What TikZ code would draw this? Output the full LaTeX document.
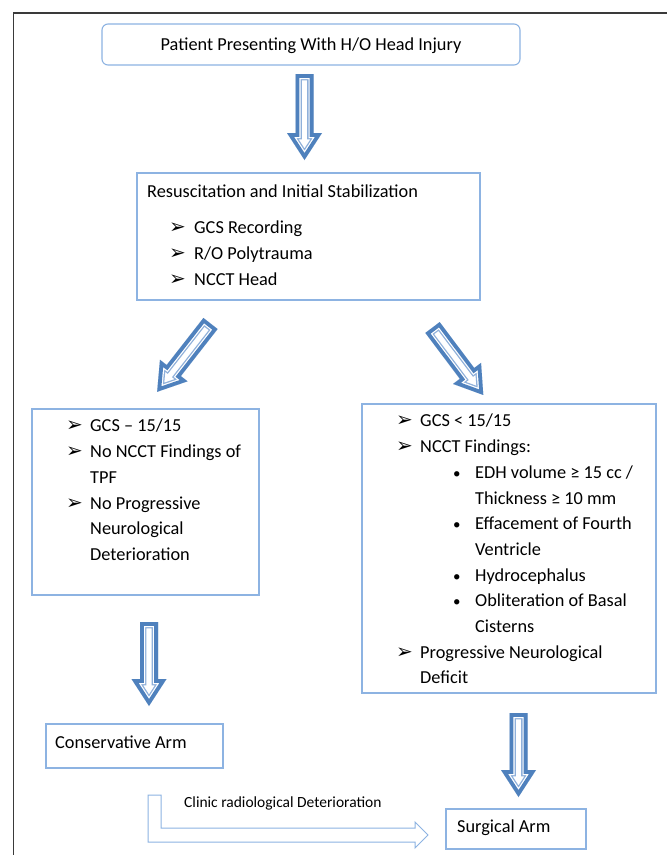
\documentclass[tikz,border=0pt]{standalone}
\usepackage{fontspec}
\setmainfont{Carlito}
\newfontfamily\symfont{DejaVu Sans}
\usetikzlibrary{calc}
\definecolor{arrblue}{HTML}{4F81BD}
\definecolor{arrlight}{HTML}{8FB0DA}
\definecolor{boxblue}{HTML}{8DB3E2}
\definecolor{framegray}{HTML}{3A3A3A}
\newcommand\blockarrow[2]{%
  \path let \p1=(#1), \p2=(#2) in \pgfextra{%
    \pgfmathsetmacro\myang{atan2(\y2-\y1,\x2-\x1)}%
    \pgfmathsetmacro\mylen{veclen(\x2-\x1,\y2-\y1)}%
    \xdef\BAang{\myang}\xdef\BAlen{\mylen}};
  \begin{scope}[shift={(#1)}, rotate=\BAang]
    \def\arrpath{(0,-9) -- (\BAlen-27,-9) -- (\BAlen-27,-17.5) -- (\BAlen,0) -- (\BAlen-27,17.5) -- (\BAlen-27,9) -- (0,9) -- cycle}
    \clip \arrpath;
    \fill[white] \arrpath;
    \draw[arrlight, line width=12.6pt] \arrpath;
    \draw[white, line width=10pt] \arrpath;
    \draw[arrblue, line width=7.6pt] \arrpath;
  \end{scope}}
\tikzset{
  box/.style={draw=boxblue, line width=1.1pt, inner sep=0pt},
  txt/.style={anchor=base west, inner sep=0pt, font=\fontsize{18.3pt}{22pt}\selectfont},
  arrbul/.style={anchor=base west, inner sep=0pt, font=\symfont\fontsize{20pt}{20pt}\selectfont},
  dotbul/.style={anchor=base west, inner sep=0pt, font=\fontsize{15pt}{18pt}\selectfont},
  small/.style={anchor=base west, inner sep=0pt, font=\fontsize{15.5pt}{18pt}\selectfont},
  thinarrow/.style={draw=boxblue, line width=1pt, fill=white, line join=miter}
}
\begin{document}
\begin{tikzpicture}[x=1pt,y=-1pt]
\useasboundingbox (0,0) rectangle (667,855);
\fill[white] (0,0) rectangle (667,855);
% outer frame
\draw[framegray, line width=1.4pt] (13.5,856) -- (13.5,13) -- (668,13);

% boxes
\node[box, rounded corners=6pt, minimum width=418pt, minimum height=41pt] (top) at (311,44.5) {};
\node[box, minimum width=343pt, minimum height=127pt] (res) at (308.5,236.5) {};
\node[box, minimum width=227pt, minimum height=186pt] (lft) at (145.5,502) {};
\node[box, minimum width=294pt, minimum height=289pt] (rgt) at (509,548.5) {};
\node[box, minimum width=177pt, minimum height=44pt] (cons) at (134.5,746) {};
\node[box, minimum width=140pt, minimum height=40pt] (surg) at (516,829) {};

% top text
\node[txt, anchor=base] (ttop) at (311,50) {Patient Presenting With H/O Head Injury};

% resuscitation box
\node[txt] (r0) at (147,197) {Resuscitation and Initial Stabilization};
\node[arrbul] (rb1) at (169,233) {➢};
\node[txt] (r1) at (194,233) {GCS Recording};
\node[arrbul] (rb2) at (169,259) {➢};
\node[txt] (r2) at (194,259) {R/O Polytrauma};
\node[arrbul] (rb3) at (169,285) {➢};
\node[txt] (r3) at (194,285) {NCCT Head};

% left box
\node[arrbul] (lb1) at (66,431) {➢};
\node[txt] (l1) at (90,431) {GCS – 15/15};
\node[arrbul] (lb2) at (66,457) {➢};
\node[txt] (l2) at (90,457) {No NCCT Findings of};
\node[txt] (l3) at (90,483) {TPF};
\node[arrbul] (lb4) at (66,509) {➢};
\node[txt] (l4) at (90,509) {No Progressive};
\node[txt] (l5) at (90,534.5) {Neurological};
\node[txt] (l6) at (90,560) {Deterioration};

% right box
\node[arrbul] (gb1) at (396,426) {➢};
\node[txt] (g1) at (420,426) {GCS < 15/15};
\node[arrbul] (gb2) at (396,452) {➢};
\node[txt] (g2) at (420,452) {NCCT Findings:};
\node[dotbul] (gd1) at (453,478) {•};
\node[txt] (g3) at (475,478) {EDH volume ≥ 15 cc /};
\node[txt] (g4) at (475,504) {Thickness ≥ 10 mm};
\node[dotbul] (gd2) at (453,529) {•};
\node[txt] (g5) at (475,529) {Effacement of Fourth};
\node[txt] (g6) at (475,555) {Ventricle};
\node[dotbul] (gd3) at (453,581) {•};
\node[txt] (g7) at (475,581) {Hydrocephalus};
\node[dotbul] (gd4) at (453,606) {•};
\node[txt] (g8) at (475,606) {Obliteration of Basal};
\node[txt] (g9) at (475,632) {Cisterns};
\node[arrbul] (gb3) at (396,658) {➢};
\node[txt] (g10) at (420,658) {Progressive Neurological};
\node[txt] (g11) at (420,683) {Deficit};

% bottom boxes text
\node[txt] (ct) at (55,748) {Conservative Arm};
\node[txt] (st) at (457,832) {Surgical Arm};

% block arrows
\coordinate (a1s) at (304.5,74);  \coordinate (a1e) at (304.5,160);
\coordinate (a2s) at (210.5,323.5); \coordinate (a2e) at (157,392);
\coordinate (a3s) at (432.5,327.5); \coordinate (a3e) at (483.3,395);
\coordinate (a4s) at (149,622);  \coordinate (a4e) at (149,706);
\coordinate (a5s) at (518.5,713); \coordinate (a5e) at (518.5,797);
\blockarrow{a1s}{a1e}
\blockarrow{a2s}{a2e}
\blockarrow{a3s}{a3e}
\blockarrow{a4s}{a4e}
\blockarrow{a5s}{a5e}

% bent arrow from conservative to surgical
\coordinate (bs) at (148,795);
\coordinate (be) at (428,835);
\draw[thinarrow] (bs) -- ++(13,0) -- (161,828) -- (415,828) -- (415,822) -- (be) -- (415,848) -- (415,842) -- (148,842) -- cycle;
\node[small] (lab) at (184,807) {Clinic radiological Deterioration};
\end{tikzpicture}
\end{document}
